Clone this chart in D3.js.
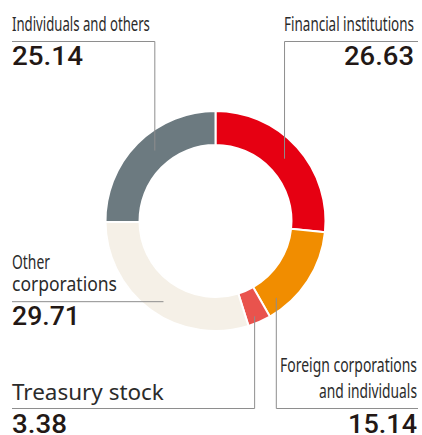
<!DOCTYPE html>
<html>
<head>
<meta charset="utf-8">
<script src="https://cdn.jsdelivr.net/npm/d3@7"></script>
<style>
  html, body { margin: 0; padding: 0; background: #fff; }
  .label { font-family: "Noto Sans", "Open Sans", sans-serif; fill: #2b2b2b; }
  .value { font-family: "Roboto", "Noto Sans", sans-serif; font-weight: 500; fill: #231815; }
</style>
</head>
<body>
<div id="chart"></div>
<script>
// shareholder composition (%), clockwise from 12 o'clock
const categories = ['Financial institutions', 'Foreign corporations and individuals', 'Treasury stock', 'Other corporations', 'Individuals and others']
const values = [26.63, 15.14, 3.38, 29.71, 25.14]
const colors = ['#e60012', '#f18d00', '#e9534d', '#f5f0e7', '#6c7a80']

const width = 422
const height = 435
const cx = 215.5
const cy = 221
const outer = 110
const inner = 76

// label layout: text lines, value, where the leader touches the ring
const layout = [
  {lines: ['Financial institutions'], widths: [130], anchor: 'end', x: 414, y: 31, lh: 26, vw: 70, vy: 65, t: 0.5, r: 93, rule: 41.5, ruleTo: 418, kind: 'top'},
  {lines: ['Foreign corporations', 'and individuals'], widths: [137, 98], anchor: 'end', x: 417, y: 372, lh: 26, vw: 69, vy: 433, t: 0.84, r: 98, rule: 408.5, ruleTo: 418, kind: 'bottom'},
  {lines: ['Treasury stock'], widths: [152], anchor: 'start', x: 12, y: 400, size: 22, vw: 55, vy: 433, t: 0.6, r: 103, rule: 408.5, ruleTo: 12, kind: 'bottom'},
  {lines: ['Other', 'corporations'], widths: [38, 105], anchor: 'start', x: 12, y: 269, lh: 22, vw: 68, vy: 325, t: 0.47, r: 96, rule: null, ruleTo: 12, kind: 'side'},
  {lines: ['Individuals and others'], widths: [138], anchor: 'start', x: 12, y: 31, lh: 26, vw: 71, vy: 65, t: 0.55, r: 93, rule: 41.5, ruleTo: 12, kind: 'top'}
]

const svg = d3.select('#chart')
  .append('svg')
  .attr('width', width)
  .attr('height', height)

const pie = d3.pie().sort(null).value(d => d)
const arcs = pie(values)

const arc = d3.arc().innerRadius(inner).outerRadius(outer)

const ring = svg.append('g').attr('transform', `translate(${cx},${cy})`)

ring.selectAll('path')
  .data(arcs)
  .join('path')
  .attr('d', arc)
  .attr('fill', (d, i) => colors[i])
  .attr('stroke', '#fff')
  .attr('stroke-width', 2)

const leaders = svg.append('g')
  .attr('fill', 'none')
  .attr('stroke', '#8e8e8e')
  .attr('stroke-width', 1)

const labels = svg.append('g')

// place a text and squeeze it horizontally to the wanted width
const fitText = (cls, str, x, y, anchor, size, w) => {
  const t = labels.append('text')
    .attr('class', cls)
    .attr('font-size', size)
    .attr('text-anchor', anchor)
    .text(str)
  const natural = t.node().getComputedTextLength()
  const k = Math.min(1.3, w / natural)
  t.attr('transform', `translate(${x},${y}) scale(${k},1)`)
}

arcs.forEach((d, i) => {
  const l = layout[i]
  const a = d.startAngle + (d.endAngle - d.startAngle) * l.t
  const px = cx + l.r * Math.sin(a)
  const py = cy - l.r * Math.cos(a)

  let path
  if (l.kind === 'side') {
    path = `M${l.ruleTo},${py}H${px}`
  } else {
    path = `M${l.ruleTo},${l.rule}H${px}V${py}`
  }
  leaders.append('path').attr('d', path)

  l.lines.forEach((line, j) => {
    fitText('label', line, l.x, l.y + j * (l.lh || 0), l.anchor, l.size || 20, l.widths[j])
  })

  fitText('value', d3.format('.2f')(values[i]), l.x, l.vy, l.anchor, 25, l.vw)
})
</script>
</body>
</html>
